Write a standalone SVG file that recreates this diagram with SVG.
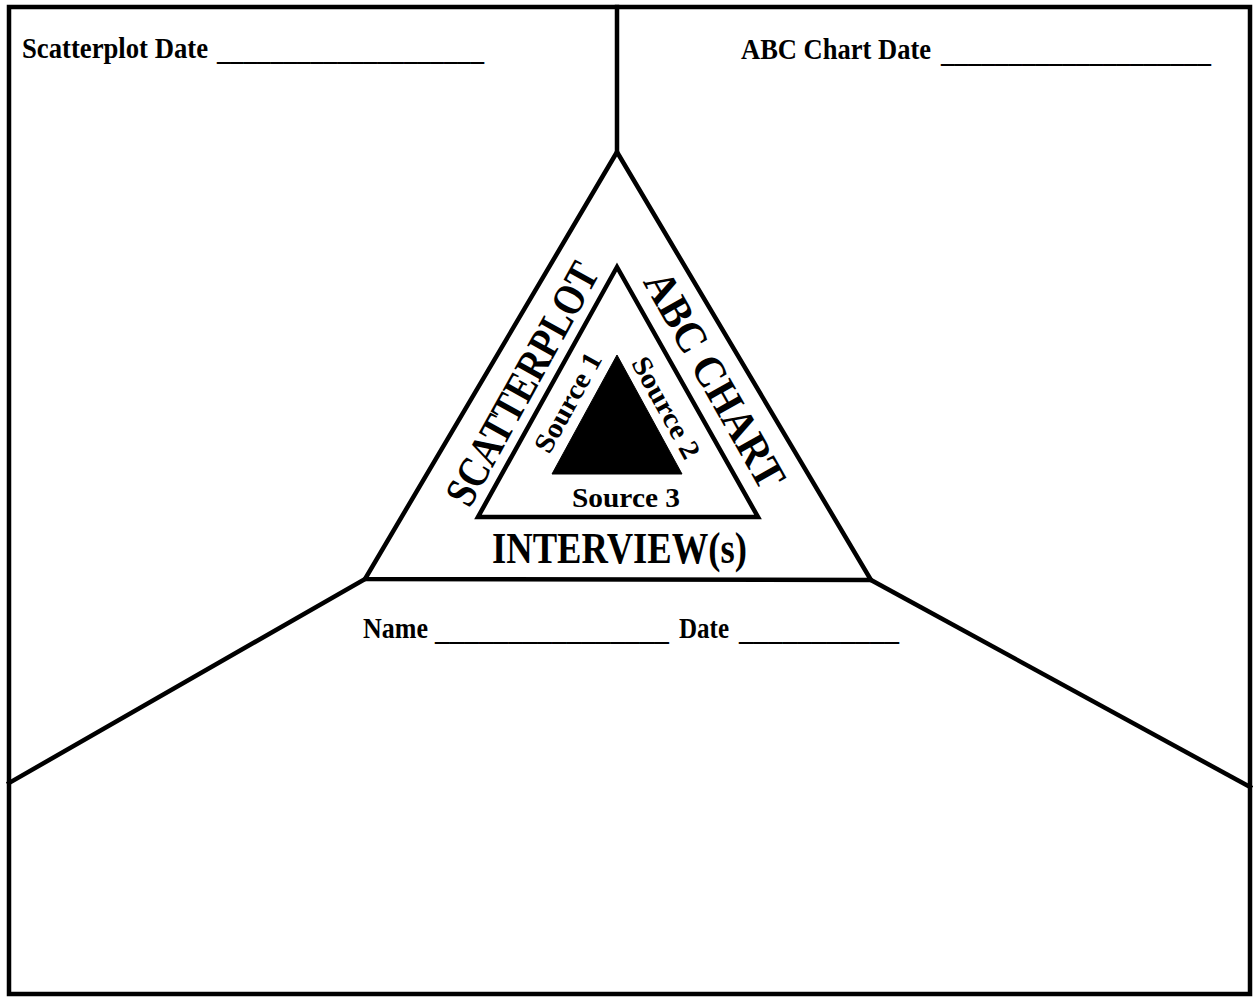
<svg xmlns="http://www.w3.org/2000/svg" width="1253" height="998" viewBox="0 0 1253 998">
<style>
.ln{fill:none;stroke:#000;stroke-width:4.5;stroke-linejoin:miter;stroke-linecap:square}
.t{font-family:"Liberation Serif","Times New Roman",serif;font-weight:bold;fill:#000}
.s28{font-size:28px}
.s30{font-size:30px}
.s44{font-size:44px}
</style>
<rect width="1253" height="998" fill="#fff"/>
<g id="frame">
<rect class="ln" x="9" y="7" width="1241" height="987"/>
</g>
<g id="connectors">
<line class="ln" x1="617" y1="7" x2="617" y2="152"/>
<line class="ln" x1="365" y1="579" x2="9" y2="783"/>
<line class="ln" x1="871" y1="580" x2="1250" y2="787"/>
</g>
<g id="outer-triangle">
<polygon class="ln" points="617,152 365,579 871,580"/>
<text class="t s44" transform="translate(535,391) rotate(-61)" text-anchor="middle" textLength="270" lengthAdjust="spacingAndGlyphs">SCATTERPLOT</text>
<text class="t s44" transform="translate(702,387) rotate(60.5)" text-anchor="middle" textLength="242" lengthAdjust="spacingAndGlyphs">ABC CHART</text>
<text class="t s44" x="492" y="563" textLength="255" lengthAdjust="spacingAndGlyphs">INTERVIEW(s)</text>
</g>
<g id="inner-triangle">
<polygon class="ln" points="617,267 478,517 758,517"/>
<text class="t s28" transform="translate(576,407) rotate(-61)" text-anchor="middle" textLength="110" lengthAdjust="spacingAndGlyphs">Source 1</text>
<text class="t s28" transform="translate(658,412) rotate(61)" text-anchor="middle" textLength="112" lengthAdjust="spacingAndGlyphs">Source 2</text>
<text class="t s28" x="572" y="507" textLength="108" lengthAdjust="spacingAndGlyphs">Source 3</text>
</g>
<g id="core-triangle">
<polygon points="617,355 552,474 682,474" fill="#000" stroke="#000" stroke-width="1"/>
</g>
<g id="scatterplot-date">
<text class="t s30" x="22" y="58" textLength="186" lengthAdjust="spacingAndGlyphs">Scatterplot Date</text>
<text class="t s28" x="217" y="60" textLength="267" lengthAdjust="spacingAndGlyphs">____________________</text>
</g>
<g id="abc-chart-date">
<text class="t s30" x="741" y="59" textLength="190" lengthAdjust="spacingAndGlyphs">ABC Chart Date</text>
<text class="t s28" x="941" y="62" textLength="270" lengthAdjust="spacingAndGlyphs">____________________</text>
</g>
<g id="name-date">
<text class="t s28" x="363" y="638" textLength="65" lengthAdjust="spacingAndGlyphs" style="font-size:29px">Name</text>
<text class="t s28" x="435" y="640" textLength="234" lengthAdjust="spacingAndGlyphs">________________</text>
<text class="t s30" x="679" y="638" textLength="50" lengthAdjust="spacingAndGlyphs">Date</text>
<text class="t s28" x="739" y="640" textLength="160" lengthAdjust="spacingAndGlyphs">___________</text>
</g>
</svg>
